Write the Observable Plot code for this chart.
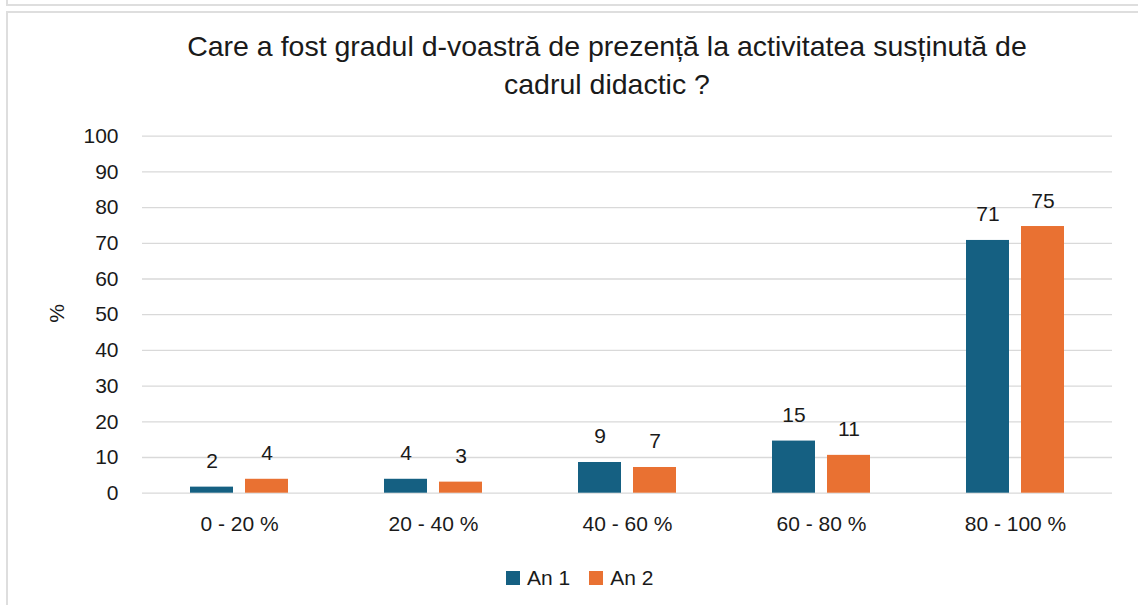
<!DOCTYPE html>
<html>
<head>
<meta charset="utf-8">
<script src="https://cdn.jsdelivr.net/npm/d3@7"></script>
<script src="https://cdn.jsdelivr.net/npm/@observablehq/plot@0.6"></script>
<style>
  html, body { margin: 0; padding: 0; background: #fff; }
  body { width: 1138px; height: 605px; position: relative; overflow: hidden; font-family: "Liberation Sans", Arial, sans-serif; }
  .frame { position: absolute; border: 2px solid #dedede; box-sizing: border-box; }
  #title { position: absolute; left: 0; width: 1214px; top: 26.6px; text-align: center; font-size: 28.5px; line-height: 38px; color: #1a1a1a; }
  #chart { position: absolute; left: 0; top: 110px; }
  #legend { position: absolute; left: 506px; top: 565px; height: 25px; display: flex; align-items: center; font-size: 21px; color: #1a1a1a; }
  .sw { width: 14px; height: 14px; margin-right: 7px; }
  .item { display: flex; align-items: center; margin-right: 19px; }
</style>
</head>
<body>
<div class="frame" style="left:6px; top:-12px; width:1200px; height:18px;"></div>
<div class="frame" style="left:6px; top:11px; width:1200px; height:700px;"></div>
<div id="title">Care a fost gradul d-voastră de prezență la activitatea susținută de<br>cadrul didactic ?</div>
<div id="chart"></div>
<div id="legend"></div>
<script>
const categories = ["0 - 20 %", "20 - 40 %", "40 - 60 %", "60 - 80 %", "80 - 100 %"];
const series = ["An 1", "An 2"];
const an1 = [1.7, 3.9, 8.6, 14.6, 70.8];
const an2 = [3.9, 3.1, 7.2, 10.6, 74.7];
const colors = ["#156082", "#E97132"];
const yTicks = [0, 10, 20, 30, 40, 50, 60, 70, 80, 90, 100];
const yLabel = "%";

const data = [];
categories.forEach((c, i) => {
  data.push({cat: c, series: series[0], value: an1[i]});
  data.push({cat: c, series: series[1], value: an2[i]});
});

const plot = Plot.plot({
  width: 1138,
  height: 440,
  marginLeft: 142,
  marginRight: 26,
  marginTop: 25.7,
  marginBottom: 57.3,
  style: {fontFamily: "'Liberation Sans', Arial, sans-serif", fontSize: "21px", color: "#1a1a1a", background: "transparent"},
  fx: {domain: categories, paddingInner: 0, paddingOuter: 0, label: null, axis: "bottom", tickSize: 0, tickPadding: 23},
  x: {domain: series, paddingInner: 0.2155, paddingOuter: 0.849, axis: null},
  y: {domain: [0, 100], ticks: yTicks, tickSize: 0, tickPadding: 24, label: null},
  color: {domain: series, range: colors},
  marks: [
    Plot.gridY(yTicks, {stroke: "#d9d9d9", strokeOpacity: 1, strokeWidth: 1.3}),
    Plot.text([yLabel], {text: d => d, frameAnchor: "left", dx: -85, dy: 8, rotate: -90, fontSize: 21, fill: "#1a1a1a", facet: "super"}),
    Plot.barY(data, {fx: "cat", x: "series", y: "value", fill: "series"}),
    Plot.text(data, {fx: "cat", x: "series", y: "value", text: d => String(Math.round(d.value)), lineAnchor: "bottom", dy: -19, fontSize: 21, fill: "#1a1a1a"})
  ]
});
document.getElementById("chart").appendChild(plot);

const legend = document.getElementById("legend");
series.forEach((s, i) => {
  const item = document.createElement("div");
  item.className = "item";
  const sw = document.createElement("div");
  sw.className = "sw";
  sw.style.background = colors[i];
  const t = document.createElement("span");
  t.textContent = s;
  item.appendChild(sw);
  item.appendChild(t);
  legend.appendChild(item);
});
</script>
</body>
</html>
